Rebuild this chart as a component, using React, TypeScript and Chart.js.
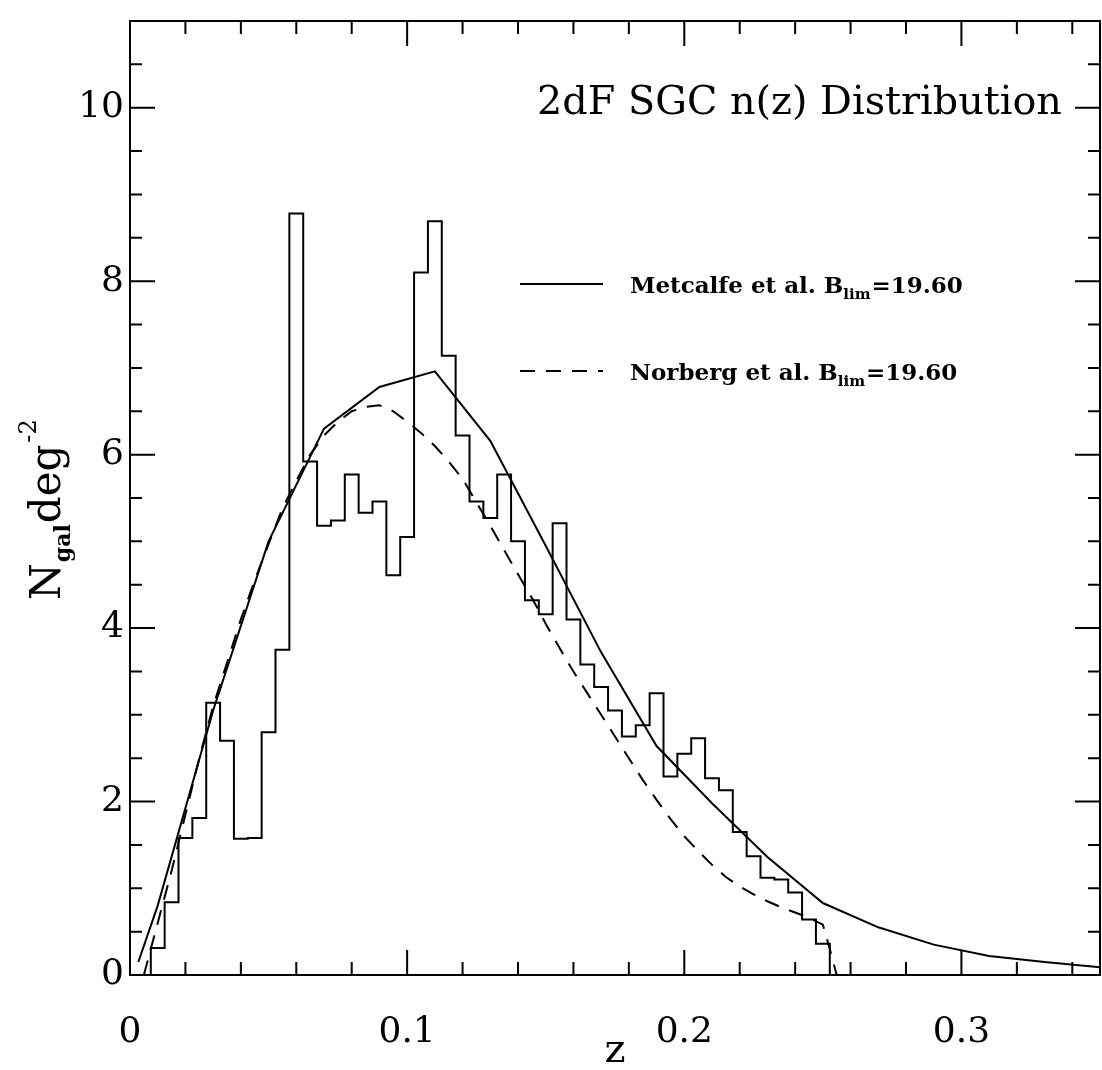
import React, { useEffect, useRef } from "react";
import { Chart, registerables } from "chart.js";

Chart.register(...registerables);

// ---------- data ----------
const binLeftEdges = [
  0.0075, 0.0125, 0.0175, 0.0225, 0.0275, 0.0325, 0.0375, 0.0425, 0.0475, 0.0525,
  0.0575, 0.0625, 0.0675, 0.0725, 0.0775, 0.0825, 0.0875, 0.0925, 0.0975, 0.1025,
  0.1075, 0.1125, 0.1175, 0.1225, 0.1275, 0.1325, 0.1375, 0.1425, 0.1475, 0.1525,
  0.1575, 0.1625, 0.1675, 0.1725, 0.1775, 0.1825, 0.1875, 0.1925, 0.1975, 0.2025,
  0.2075, 0.2125, 0.2175, 0.2225, 0.2275, 0.2325, 0.2375, 0.2425, 0.2475,
];
const histRightEdge = 0.2525;
const histCounts = [
  0.31, 0.84, 1.58, 1.81, 3.14, 2.7, 1.57, 1.58, 2.8, 3.75,
  8.78, 5.92, 5.18, 5.24, 5.77, 5.33, 5.46, 4.61, 5.05, 8.1,
  8.69, 7.14, 6.22, 5.46, 5.27, 5.77, 5.0, 4.32, 4.16, 5.21,
  4.1, 3.58, 3.32, 3.05, 2.75, 2.88, 3.25, 2.29, 2.55, 2.73,
  2.27, 2.13, 1.65, 1.37, 1.12, 1.1, 0.95, 0.64, 0.36,
];

const metcalfeZ = [0.003, 0.01, 0.03, 0.05, 0.07, 0.09, 0.11, 0.13, 0.15, 0.17, 0.19, 0.21, 0.23, 0.25, 0.27, 0.29, 0.31, 0.33, 0.35];
const metcalfeN = [0.15, 0.8, 3.05, 5.0, 6.3, 6.78, 6.96, 6.16, 4.95, 3.72, 2.64, 1.98, 1.36, 0.83, 0.55, 0.35, 0.22, 0.15, 0.09];

const norbergZ = [
  0.005, 0.01, 0.015, 0.02, 0.025, 0.03, 0.035, 0.04, 0.045, 0.05,
  0.055, 0.06, 0.065, 0.07, 0.075, 0.08, 0.085, 0.09, 0.095, 0.1,
  0.105, 0.11, 0.115, 0.12, 0.125, 0.13, 0.135, 0.14, 0.145, 0.15,
  0.155, 0.16, 0.165, 0.17, 0.175, 0.18, 0.185, 0.19, 0.195, 0.2,
  0.205, 0.21, 0.215, 0.22, 0.225, 0.23, 0.235, 0.24, 0.245, 0.25,
  0.2525, 0.255,
];
const norbergN = [
  0.0, 0.6, 1.2, 1.85, 2.5, 3.1, 3.6, 4.1, 4.55, 4.97,
  5.38, 5.7, 6.0, 6.22, 6.38, 6.5, 6.55, 6.57, 6.5, 6.38,
  6.25, 6.1, 5.92, 5.72, 5.45, 5.18, 4.9, 4.62, 4.35, 4.05,
  3.77, 3.5, 3.25, 3.0, 2.75, 2.5, 2.25, 2.02, 1.8, 1.6,
  1.43, 1.27, 1.13, 1.02, 0.93, 0.85, 0.78, 0.72, 0.66, 0.58,
  0.3, 0.0,
];

const xTickValues = [0, 0.1, 0.2, 0.3];
const xTickLabels = ["0", "0.1", "0.2", "0.3"];
const yTickValues = [0, 2, 4, 6, 8, 10];
const yTickLabels = ["0", "2", "4", "6", "8", "10"];
const xRange = [0, 0.35];
const yRange = [0, 11];

const titleText = "2dF SGC n(z) Distribution";
const xAxisTitle = "z";
const yAxisTitleParts = ["N", "gal", "deg", "-2"];
const legendNames = ["Metcalfe et al. B", "Norberg et al. B"];
const legendSub = "lim";
const legendTail = "=19.60";

const SERIF = "'DejaVu Serif', serif";
const DASH = [15, 11];

// ---------- plugin for frame, inner ticks, annotations ----------
const decorPlugin = {
  id: "decor",
  afterDatasetsDraw(chart: any) {
    const { ctx, chartArea: a, scales } = chart;
    const xs = scales.x;
    const ys = scales.y;
    ctx.save();
    ctx.strokeStyle = "#000";
    ctx.fillStyle = "#000";
    ctx.lineWidth = 2;
    ctx.setLineDash([]);
    ctx.strokeRect(a.left, a.top, a.right - a.left, a.bottom - a.top);

    // y ticks (minor 0.5, major 2)
    for (let i = 0; i <= 22; i++) {
      const v = i * 0.5;
      const py = ys.getPixelForValue(v);
      const len = i % 4 === 0 ? 25 : 12;
      ctx.beginPath();
      ctx.moveTo(a.left, py);
      ctx.lineTo(a.left + len, py);
      ctx.moveTo(a.right, py);
      ctx.lineTo(a.right - len, py);
      ctx.stroke();
    }
    // x ticks (minor 0.02, major 0.1)
    for (let i = 0; i <= 17; i++) {
      const v = i * 0.02;
      const px = xs.getPixelForValue(v);
      const len = i % 5 === 0 ? 25 : 13;
      ctx.beginPath();
      ctx.moveTo(px, a.bottom);
      ctx.lineTo(px, a.bottom - len);
      ctx.moveTo(px, a.top);
      ctx.lineTo(px, a.top + len);
      ctx.stroke();
    }

    // title (fit to width)
    ctx.textBaseline = "alphabetic";
    ctx.textAlign = "left";
    ctx.font = `100px ${SERIF}`;
    const tw = ctx.measureText(titleText).width;
    const tSize = (525 / tw) * 100;
    ctx.font = `${tSize}px ${SERIF}`;
    ctx.fillText(titleText, 537, 114);

    // legend
    const legendY = [284, 371];
    legendNames.forEach((name, k) => {
      const y = legendY[k];
      ctx.lineWidth = 2;
      ctx.setLineDash(k === 0 ? [] : DASH);
      ctx.beginPath();
      ctx.moveTo(520, y);
      ctx.lineTo(603, y);
      ctx.stroke();
      ctx.setLineDash([]);
      const big = `bold 23px ${SERIF}`;
      const small = `bold 15px ${SERIF}`;
      let x = 630;
      const base = y + 9;
      ctx.font = big;
      ctx.fillText(name, x, base);
      x += ctx.measureText(name).width;
      ctx.font = small;
      ctx.fillText(legendSub, x, base + 6);
      x += ctx.measureText(legendSub).width + 1;
      ctx.font = big;
      ctx.fillText(legendTail, x, base);
    });

    // x axis title
    ctx.font = `40px ${SERIF}`;
    ctx.textAlign = "center";
    ctx.fillText(xAxisTitle, (a.left + a.right) / 2, 1062);

    // y axis title rotated
    ctx.save();
    ctx.translate(60, 600);
    ctx.rotate(-Math.PI / 2);
    ctx.textAlign = "left";
    let x = 0;
    ctx.font = `42px ${SERIF}`;
    ctx.fillText(yAxisTitleParts[0], x, 0);
    x += ctx.measureText(yAxisTitleParts[0]).width + 1;
    ctx.font = `bold 22px ${SERIF}`;
    ctx.fillText(yAxisTitleParts[1], x, 10);
    x += ctx.measureText(yAxisTitleParts[1]).width + 1;
    ctx.font = `42px ${SERIF}`;
    ctx.fillText(yAxisTitleParts[2], x, 0);
    x += ctx.measureText(yAxisTitleParts[2]).width + 2;
    ctx.font = `24px ${SERIF}`;
    ctx.fillText(yAxisTitleParts[3], x, -24);
    ctx.restore();

    ctx.restore();
  },
};

export default function App() {
  const canvasRef = useRef<HTMLCanvasElement | null>(null);

  useEffect(() => {
    const canvas = canvasRef.current;
    if (!canvas) return;

    const histData = [
      { x: binLeftEdges[0], y: 0 },
      ...binLeftEdges.map((z, i) => ({ x: z, y: histCounts[i] })),
      { x: histRightEdge, y: histCounts[histCounts.length - 1] },
      { x: histRightEdge, y: 0 },
    ];
    const metData = metcalfeZ.map((z, i) => ({ x: z, y: metcalfeN[i] }));
    const norData = norbergZ.map((z, i) => ({ x: z, y: norbergN[i] }));

    const chart = new Chart(canvas, {
      type: "scatter",
      data: {
        datasets: [
          {
            label: "2dF SGC",
            data: histData,
            showLine: true,
            stepped: "before",
            borderColor: "#000",
            borderWidth: 2,
            pointRadius: 0,
            fill: false,
          } as any,
          {
            label: "Metcalfe",
            data: metData,
            showLine: true,
            borderColor: "#000",
            borderWidth: 2,
            pointRadius: 0,
            tension: 0,
          },
          {
            label: "Norberg",
            data: norData,
            showLine: true,
            borderColor: "#000",
            borderWidth: 2,
            borderDash: DASH,
            pointRadius: 0,
            tension: 0,
          },
        ],
      },
      options: {
        responsive: false,
        animation: false,
        events: [],
        layout: { padding: { top: 21, right: 2, left: 0, bottom: 0 } },
        plugins: {
          legend: { display: false },
          tooltip: { enabled: false },
          title: { display: false },
        },
        scales: {
          x: {
            type: "linear",
            min: xRange[0],
            max: xRange[1],
            grid: { display: false, drawTicks: false },
            border: { display: false },
            afterBuildTicks: (s: any) => {
              s.ticks = xTickValues.map((v) => ({ value: v }));
            },
            afterFit: (s: any) => {
              s.height = 95;
              s.paddingLeft = 0;
              s.paddingRight = 0;
            },
            ticks: {
              padding: 36,
              color: "#000",
              font: { family: SERIF, size: 36 },
              maxRotation: 0,
              autoSkip: false,
              callback: (v: any) => {
                const i = xTickValues.findIndex((t) => Math.abs(t - Number(v)) < 1e-9);
                return i >= 0 ? xTickLabels[i] : "";
              },
            },
          },
          y: {
            type: "linear",
            min: yRange[0],
            max: yRange[1],
            grid: { display: false, drawTicks: false },
            border: { display: false },
            afterBuildTicks: (s: any) => {
              s.ticks = yTickValues.map((v) => ({ value: v }));
            },
            afterFit: (s: any) => {
              s.width = 130;
              s.paddingTop = 0;
              s.paddingBottom = 0;
            },
            ticks: {
              padding: 6,
              color: "#000",
              font: { family: SERIF, size: 36 },
              autoSkip: false,
              callback: (v: any) => {
                const i = yTickValues.findIndex((t) => Math.abs(t - Number(v)) < 1e-9);
                return i >= 0 ? yTickLabels[i] : "";
              },
            },
          },
        },
      },
      plugins: [decorPlugin],
    });

    return () => {
      chart.destroy();
    };
  }, []);

  return (
    <div style={{ position: "absolute", left: 0, top: 0, width: 1102, height: 1070, background: "#fff" }}>
      <canvas ref={canvasRef} width={1102} height={1070} style={{ display: "block" }} />
    </div>
  );
}
